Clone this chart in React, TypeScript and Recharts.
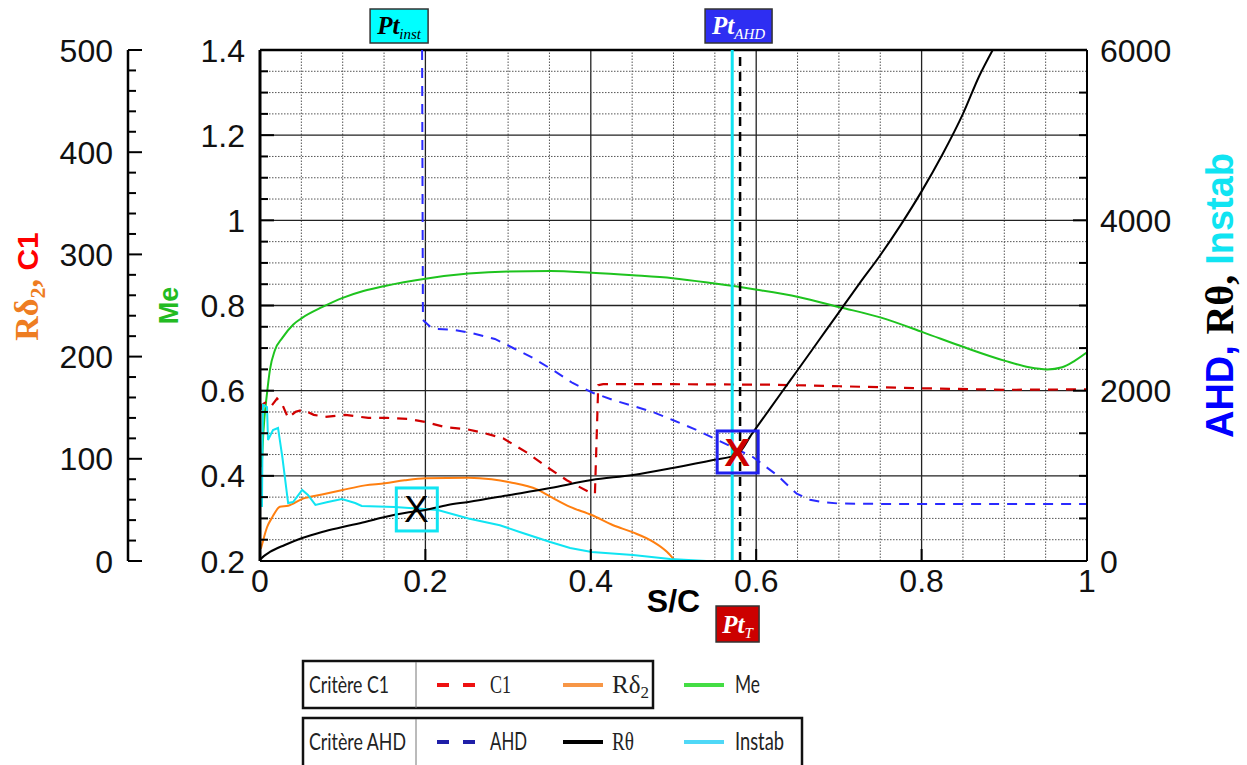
import React from "react";
import {
  ComposedChart,
  Line,
  XAxis,
  YAxis,
  ReferenceLine,
  ReferenceDot,
} from "recharts";

// axis ticks
const SC_TICKS = [0, 0.2, 0.4, 0.6, 0.8, 1];
const SC_GRID = [0.05, 0.1, 0.15, 0.2, 0.25, 0.3, 0.35, 0.4, 0.45, 0.5, 0.55, 0.6, 0.65, 0.7, 0.75, 0.8, 0.85, 0.9, 0.95];
const ME_TICKS = [0.2, 0.25, 0.3, 0.35, 0.4, 0.45, 0.5, 0.55, 0.6, 0.65, 0.7, 0.75, 0.8, 0.85, 0.9, 0.95, 1, 1.05, 1.1, 1.15, 1.2, 1.25, 1.3, 1.35, 1.4];
const LEFT_TICKS = [0, 20, 40, 60, 80, 100, 120, 140, 160, 180, 200, 220, 240, 260, 280, 300, 320, 340, 360, 380, 400, 420, 440, 460, 480, 500];
const RIGHT_TICKS = [0, 500, 1000, 1500, 2000, 2500, 3000, 3500, 4000, 4500, 5000, 5500, 6000];

// series, [S/C, value]
const ME: [number, number][] = [
  [0.002, 0.42], [0.004, 0.5], [0.0085, 0.594], [0.012, 0.649], [0.018, 0.695], [0.027, 0.724],
  [0.04, 0.755], [0.051, 0.771], [0.075, 0.796], [0.1, 0.818], [0.125, 0.834], [0.151, 0.846],
  [0.2, 0.863], [0.252, 0.875], [0.3, 0.88], [0.351, 0.881], [0.401, 0.877], [0.451, 0.871],
  [0.499, 0.864], [0.548, 0.852], [0.601, 0.837], [0.651, 0.82], [0.701, 0.796], [0.752, 0.771],
  [0.802, 0.737], [0.85, 0.703], [0.901, 0.67], [0.93, 0.655], [0.952, 0.65], [0.97, 0.655],
  [0.985, 0.67], [1, 0.69],
];

const C1: [number, number][] = [
  [0.001, 148], [0.0024, 153], [0.0085, 156], [0.014, 152], [0.0206, 159], [0.027, 153],
  [0.034, 140], [0.043, 146], [0.052, 148], [0.065, 143], [0.079, 141], [0.103, 143],
  [0.131, 140], [0.154, 140], [0.179, 139], [0.2, 136], [0.224, 131], [0.25, 129],
  [0.272, 125], [0.294, 120], [0.323, 106], [0.347, 92], [0.371, 79], [0.399, 67],
  [0.405, 66], [0.409, 172], [0.415, 173], [0.5, 173], [0.62, 172.5], [0.701, 171],
  [0.802, 169], [0.901, 167.5], [1, 168],
];

const RDELTA2: [number, number][] = [
  [0.001, 12], [0.0024, 16], [0.0085, 33], [0.015, 43], [0.024, 53], [0.034, 54],
  [0.052, 61], [0.075, 65], [0.1, 69.5], [0.127, 74], [0.151, 76], [0.175, 79],
  [0.2, 81], [0.252, 81.5], [0.28, 80], [0.302, 77], [0.335, 70], [0.351, 63],
  [0.375, 53], [0.401, 45], [0.427, 35], [0.451, 28], [0.475, 19], [0.492, 9], [0.502, 0],
];

const RTHETA: [number, number][] = [
  [0, 15], [0.005, 60], [0.012, 106], [0.03, 188], [0.051, 270], [0.075, 341], [0.1, 399],
  [0.127, 458], [0.151, 517], [0.175, 564], [0.2, 600], [0.227, 658], [0.252, 693],
  [0.302, 775], [0.351, 857], [0.401, 951], [0.451, 1010], [0.499, 1092], [0.548, 1186],
  [0.577, 1250], [0.595, 1495], [0.605, 1630], [0.63, 1970], [0.65, 2240], [0.675, 2580],
  [0.7, 2920], [0.725, 3260], [0.75, 3590], [0.775, 3950], [0.8, 4340], [0.825, 4770],
  [0.85, 5250], [0.87, 5700], [0.886, 6000],
];

const INSTAB: [number, number][] = [
  [0.0024, 634], [0.003, 1400], [0.0036, 1832], [0.0085, 1808], [0.0097, 1421], [0.0157, 1538],
  [0.0218, 1562], [0.027, 1221], [0.034, 681], [0.04, 693], [0.051, 834], [0.058, 775],
  [0.067, 658], [0.082, 693], [0.099, 728], [0.115, 681], [0.123, 646], [0.163, 634],
  [0.215, 599], [0.252, 500], [0.29, 420], [0.314, 341], [0.351, 223], [0.375, 153],
  [0.401, 106], [0.451, 70], [0.496, 23], [0.54, 0],
];

const AHD: [number, number][] = [
  [0.196, 6000], [0.197, 2830], [0.206, 2748], [0.214, 2724], [0.236, 2712], [0.256, 2677],
  [0.284, 2607], [0.306, 2501], [0.33, 2384], [0.354, 2243], [0.378, 2090], [0.403, 1973],
  [0.427, 1890], [0.451, 1820], [0.475, 1750], [0.499, 1656], [0.528, 1538], [0.553, 1421],
  [0.596, 1221], [0.625, 1010], [0.649, 790], [0.665, 720], [0.68, 690], [0.7, 675],
  [0.75, 670], [1, 669],
];

// transition markers
const PT_INST = 0.196;
const PT_AHD = 0.571;
const PT_T = 0.5805;
const INST_MARK: [number, number] = [0.189, 611];
const T_MARK: [number, number] = [0.577, 1280];

const SANS = "'Liberation Sans', Arial, sans-serif";
const SERIF = "'Liberation Serif', 'Times New Roman', serif";
const LEG_SANS = "Lato, 'Open Sans', sans-serif";

const pts = (a: [number, number][]) => a.map(([x, y]) => ({ x, y }));
const fmt = (v: number) => String(Number(v.toFixed(2)));
const isMult = (v: number, step: number) => Math.abs(v / step - Math.round(v / step)) < 1e-6;

const XTick = (p: any) => (
  <g>
    <line x1={p.x} x2={p.x} y1={p.y} y2={p.y - 12} stroke="#000" strokeWidth={2} />
    <text x={p.x} y={p.y + 31} textAnchor="middle" fontSize={32} fontFamily={SANS} fill="#111">
      {fmt(p.payload.value)}
    </text>
  </g>
);

const leftTick = (step: number) => (p: any) => {
  const major = isMult(p.payload.value, step);
  return (
    <g>
      <line x1={p.x} x2={p.x + (major ? 14 : 8)} y1={p.y} y2={p.y} stroke="#000" strokeWidth={2} />
      {major && (
        <text x={p.x - 15} y={p.y + 11.5} textAnchor="end" fontSize={32} fontFamily={SANS} fill="#111">
          {fmt(p.payload.value)}
        </text>
      )}
    </g>
  );
};

const RightTick = (p: any) => {
  const major = isMult(p.payload.value, 2000);
  return (
    <g>
      <line x1={p.x} x2={p.x - (major ? 14 : 8)} y1={p.y} y2={p.y} stroke="#000" strokeWidth={2} />
      {major && (
        <text x={p.x + 13} y={p.y + 11.5} textAnchor="start" fontSize={32} fontFamily={SANS} fill="#111">
          {p.payload.value}
        </text>
      )}
    </g>
  );
};

const leftTitle = ({ viewBox }: any) => {
  const x = viewBox.x - 30;
  const y = viewBox.y + viewBox.height / 2 - 19;
  return (
    <text transform={`translate(${x},${y}) rotate(-90)`} textAnchor="middle" fontWeight="bold">
      <tspan fill="#ee7d22" fontFamily={SERIF} fontSize={34}>Rδ</tspan>
      <tspan fill="#ee7d22" fontFamily={SERIF} fontSize={22} dy={7}>2</tspan>
      <tspan fill="#ee7d22" fontFamily={SERIF} fontSize={34} dy={-7}>, </tspan>
      <tspan fill="#ff0000" fontFamily={SANS} fontSize={30}>C1</tspan>
    </text>
  );
};

const meTitle = ({ viewBox }: any) => (
  <text
    transform={`translate(${viewBox.x + 50},${viewBox.y + viewBox.height / 2}) rotate(-90)`}
    textAnchor="middle"
    fontWeight="bold"
    fontFamily={SANS}
    fontSize={27}
    fill="#22bb22"
  >
    Me
  </text>
);

const rightTitle = ({ viewBox }: any) => (
  <text
    transform={`translate(${viewBox.x + 146},${viewBox.y + viewBox.height / 2 - 10}) rotate(-90)`}
    textAnchor="middle"
    fontWeight="bold"
  >
    <tspan fill="#0000ff" fontFamily={SANS} fontSize={38}>AHD, </tspan>
    <tspan fill="#000" fontFamily={SERIF} fontSize={40}>Rθ, </tspan>
    <tspan fill="#10e4f2" fontFamily={SANS} fontSize={38}>Instab</tspan>
  </text>
);

const xTitle = ({ viewBox }: any) => (
  <text
    x={viewBox.x + viewBox.width / 2}
    y={viewBox.y + 51}
    textAnchor="middle"
    fontWeight="bold"
    fontFamily={SANS}
    fontSize={32}
    fill="#000"
  >
    S/C
  </text>
);

function ptBox(x: number, y: number, w: number, h: number, bg: string, fg: string, sub: string) {
  return (
    <g>
      <rect x={x} y={y} width={w} height={h} fill={bg} stroke="#333" strokeWidth={1.5} />
      <text x={x + w / 2} y={y + h - 9} textAnchor="middle" fill={fg} fontFamily={SERIF} fontStyle="italic">
        <tspan fontWeight="bold" fontSize={25}>Pt</tspan>
        <tspan fontSize={15} dy={5}>{sub}</tspan>
      </text>
    </g>
  );
}

const instLabel = ({ viewBox }: any) => ptBox(viewBox.x - 52, viewBox.y - 41, 58, 34, "#00ffff", "#000", "inst");
const ahdTLabels = ({ viewBox }: any) => (
  <g>
    {ptBox(viewBox.x - 35, viewBox.y - 41, 67, 34, "#2e2ef2", "#fff", "AHD")}
    {ptBox(viewBox.x - 24, viewBox.y + viewBox.height + 45, 43, 36, "#cc0000", "#fff", "T")}
  </g>
);

const instMarker = (p: any) => (
  <g>
    <rect x={p.cx - 20} y={p.cy - 21} width={41} height={43} fill="none" stroke="#10e4f2" strokeWidth={3} />
    <text x={p.cx} y={p.cy + 13} textAnchor="middle" fontFamily={SANS} fontSize={37} fill="#000">X</text>
  </g>
);

const tMarker = (p: any) => (
  <g>
    <rect x={p.cx - 20} y={p.cy - 21} width={41} height={42} fill="none" stroke="#2020ee" strokeWidth={3} />
    <text x={p.cx} y={p.cy + 14} textAnchor="middle" fontFamily={SANS} fontWeight="bold" fontSize={38} fill="#cc0000">X</text>
  </g>
);

const LEGEND_ROWS = [
  {
    title: "Critère C1",
    titleLen: 80,
    items: [
      { label: "C1", len: 21, color: "#ee1111", dash: "12 14", serif: true },
      { label: "Rδ", len: 0, sub: "2", color: "#f79646", serif: true },
      { label: "Me", len: 25, color: "#44dd44" },
    ],
  },
  {
    title: "Critère AHD",
    titleLen: 97,
    items: [
      { label: "AHD", len: 37, color: "#1f1fa8", dash: "12 14" },
      { label: "Rθ", len: 22, color: "#000", serif: true },
      { label: "Instab", len: 49, color: "#4fd8f7" },
    ],
  },
];

function LegendBoxes() {
  const rowTop = [660, 717];
  const boxW = [352, 501];
  const sampleX = [437, 563, 684];
  const textX = [490, 612, 735];
  return (
    <svg
      width={1247}
      height={765}
      style={{ position: "absolute", left: 0, top: 0, pointerEvents: "none" }}
    >
      {LEGEND_ROWS.map((row, r) => {
        const top = rowTop[r];
        const base = top + 33;
        return (
          <g key={row.title}>
            <rect x={303} y={top + 1} width={boxW[r] - 2} height={r === 0 ? 47 : 60} fill="none" stroke="#111" strokeWidth={2.5} />
            <line x1={416} x2={416} y1={top + 2} y2={top + 48} stroke="#777" strokeWidth={1} />
            <text x={309} y={base} fontFamily={LEG_SANS} fontSize={24} fill="#222" textLength={row.titleLen} lengthAdjust="spacingAndGlyphs">
              {row.title}
            </text>
            {row.items.map((it, i) => (
              <g key={it.label}>
                <line
                  x1={sampleX[i]}
                  x2={sampleX[i] + 40}
                  y1={top + 25}
                  y2={top + 25}
                  stroke={it.color}
                  strokeWidth={4}
                  strokeDasharray={it.dash}
                />
                {it.sub ? (
                  <text x={textX[i]} y={base} fontFamily={SERIF} fontSize={25} fill="#222">
                    {it.label}
                    <tspan fontSize={17} dy={5}>{it.sub}</tspan>
                  </text>
                ) : (
                  <text
                    x={textX[i]}
                    y={base}
                    fontFamily={it.serif ? SERIF : LEG_SANS}
                    fontSize={25}
                    fill="#222"
                    textLength={it.len}
                    lengthAdjust="spacingAndGlyphs"
                  >
                    {it.label}
                  </text>
                )}
              </g>
            ))}
          </g>
        );
      })}
    </svg>
  );
}

export default function App() {
  return (
    <div
      style={{
        position: "absolute", left: 0, top: 0, width: 1247, height: 765, overflow: "hidden", background: "#fff",
      }}
    >
      <ComposedChart width={1247} height={765} margin={{ top: 50, right: 100, bottom: 164, left: 68 }}>
        <XAxis
          dataKey="x"
          type="number"
          domain={[0, 1]}
          allowDataOverflow
          ticks={SC_TICKS}
          interval={0}
          height={40}
          tickSize={0}
          tickMargin={0}
          tickLine={false}
          axisLine={{ stroke: "#000", strokeWidth: 2 }}
          tick={XTick}
          label={xTitle}
        />
        <YAxis
          yAxisId="rd"
          orientation="left"
          type="number"
          domain={[0, 500]}
          allowDataOverflow
          ticks={LEFT_TICKS}
          interval={0}
          width={60}
          tickSize={0}
          tickMargin={0}
          tickLine={false}
          axisLine={{ stroke: "#000", strokeWidth: 2.5 }}
          tick={leftTick(100)}
          label={leftTitle}
        />
        <YAxis
          yAxisId="me"
          orientation="left"
          type="number"
          domain={[0.2, 1.4]}
          allowDataOverflow
          ticks={ME_TICKS}
          interval={0}
          width={132}
          tickSize={0}
          tickMargin={0}
          tickLine={false}
          axisLine={{ stroke: "#000", strokeWidth: 3 }}
          tick={leftTick(0.2)}
          label={meTitle}
        />
        <YAxis
          yAxisId="r"
          orientation="right"
          type="number"
          domain={[0, 6000]}
          allowDataOverflow
          ticks={RIGHT_TICKS}
          interval={0}
          width={60}
          tickSize={0}
          tickMargin={0}
          tickLine={false}
          axisLine={{ stroke: "#000", strokeWidth: 2 }}
          tick={RightTick}
          label={rightTitle}
        />

        {SC_GRID.map((v) => (
          <ReferenceLine
            key={`vx${v}`}
            yAxisId="me"
            x={v}
            stroke={isMult(v, 0.2) ? "#222" : "#555"}
            strokeWidth={isMult(v, 0.2) ? 1.3 : 1}
            strokeDasharray={isMult(v, 0.2) ? undefined : "1.5 1.5"}
          />
        ))}
        {ME_TICKS.filter((v) => v > 0.2 && v < 1.4).map((v) => (
          <ReferenceLine
            key={`hy${v}`}
            yAxisId="me"
            y={v}
            stroke={isMult(v, 0.2) ? "#222" : "#555"}
            strokeWidth={isMult(v, 0.2) ? 1.3 : 1}
            strokeDasharray={isMult(v, 0.2) ? undefined : "1.5 1.5"}
          />
        ))}
        <ReferenceLine yAxisId="me" y={1.4} stroke="#000" strokeWidth={2.5} />

        <Line data={pts(ME)} dataKey="y" yAxisId="me" type="monotone" stroke="#1ec31e" strokeWidth={2} dot={false} isAnimationActive={false} />
        <Line data={pts(RDELTA2)} dataKey="y" yAxisId="rd" type="monotone" stroke="#ff7f10" strokeWidth={2} dot={false} isAnimationActive={false} />
        <Line data={pts(C1)} dataKey="y" yAxisId="rd" type="linear" stroke="#d00000" strokeWidth={2.2} strokeDasharray="10 8" dot={false} isAnimationActive={false} />
        <Line data={pts(INSTAB)} dataKey="y" yAxisId="r" type="linear" stroke="#10e4f2" strokeWidth={2} dot={false} isAnimationActive={false} />
        <Line data={pts(AHD)} dataKey="y" yAxisId="r" type="linear" stroke="#2a2aff" strokeWidth={2} strokeDasharray="10 8" dot={false} isAnimationActive={false} />
        <Line data={pts(RTHETA)} dataKey="y" yAxisId="r" type="monotone" stroke="#000" strokeWidth={2} dot={false} isAnimationActive={false} />

        <ReferenceLine yAxisId="me" x={PT_INST} stroke="none" label={instLabel} />
        <ReferenceLine yAxisId="me" x={PT_AHD} stroke="#10e4f2" strokeWidth={3} />
        <ReferenceLine yAxisId="me" x={PT_T} stroke="#000" strokeWidth={2.5} strokeDasharray="9 6" label={ahdTLabels} />

        <ReferenceDot yAxisId="r" x={INST_MARK[0]} y={INST_MARK[1]} shape={instMarker} />
        <ReferenceDot yAxisId="r" x={T_MARK[0]} y={T_MARK[1]} shape={tMarker} />
      </ComposedChart>
      <LegendBoxes />
    </div>
  );
}
